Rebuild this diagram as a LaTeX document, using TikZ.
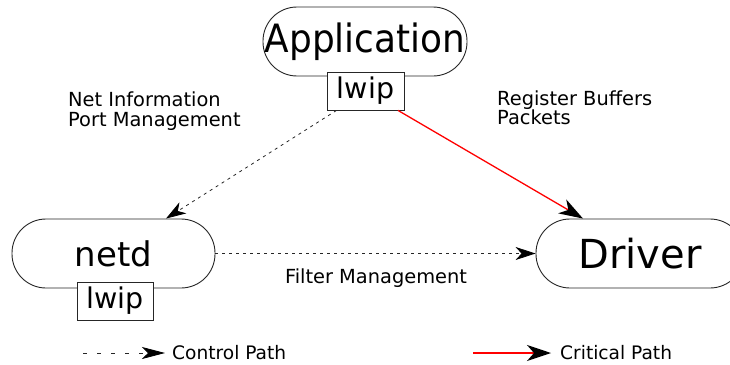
\documentclass[tikz,border=0pt]{standalone}
\usepackage{fontspec}
\setmainfont{DejaVu Sans}
\usetikzlibrary{arrows.meta,calc}
\tikzset{
  stadium/.style={draw=black!85, line width=0.9pt, rounded corners=34pt, minimum height=69pt, inner sep=0pt, fill=white},
  lwipbox/.style={draw=black!85, line width=0.8pt, fill=white, minimum width=77pt, minimum height=38pt, inner sep=0pt, font=\fontsize{28.5}{30}\selectfont},
  lbl/.style={inner sep=0pt, font=\fontsize{19.4}{21}\selectfont},
  leg/.style={inner sep=0pt, font=\fontsize{18.6}{21}\selectfont},
  ctrl/.style={draw=black!85, line width=0.8pt, dash pattern=on 3pt off 4pt, -{Stealth[length=20pt,width=13pt,inset=6pt,color=black]}},
  crit/.style={draw=red, line width=1.3pt, -{Stealth[length=24pt,width=16pt,inset=7pt,color=black]}},
}
\begin{document}
\begin{tikzpicture}[x=1pt,y=-1pt]
\useasboundingbox (0,0) rectangle (730,364);
\node[stadium, minimum width=204pt, font=\fontsize{39}{44}\selectfont] (app) at (365,41.5) {\scalebox{0.92}[1]{Application}};
\node[lwipbox] (alwip) at (365.5,91) {lwip};
\node[stadium, minimum width=203pt, font=\fontsize{34}{38}\selectfont] (netd) at (113.5,253.5) {netd};
\node[lwipbox, minimum width=76pt] (nlwip) at (115,301) {lwip};
\node[stadium, minimum width=208pt, font=\fontsize{40}{44}\selectfont] (drv) at (640,253.5) {Driver};

\node[lbl, anchor=base west] (ni1) at (68,106) {Net Information};
\node[lbl, anchor=base west] (ni2) at (68,126) {Port Management};
\node[lbl, anchor=base west] (rb1) at (497,105.5) {Register Buffers};
\node[lbl, anchor=base west] (rb2) at (497,124.5) {Packets};
\node[lbl, anchor=base] (fm) at (376,283) {Filter Management};

\draw[ctrl] ($(alwip.south)+(-29,0)$) -- ($(netd.north)+(52.5,0)$);
\draw[crit] ($(alwip.south)+(32.5,0)$) -- ($(drv.north)+(-57,0)$);
\draw[ctrl] (netd.east) -- (drv.west);

\coordinate (c1) at (83,353);
\coordinate (c2) at (165,353);
\node[leg, anchor=base west] (ctl) at (172,359) {Control Path};
\draw[draw=black!85, line width=0.8pt, dash pattern=on 4pt off 10pt, -{Stealth[length=23pt,width=12pt,inset=6pt,color=black]}] (c1) -- (c2);
\coordinate (r1) at (473,353);
\coordinate (r2) at (551,353);
\node[leg, anchor=base west] (cri) at (560,359) {Critical Path};
\draw[crit] (r1) -- (r2);
\end{tikzpicture}
\end{document}
